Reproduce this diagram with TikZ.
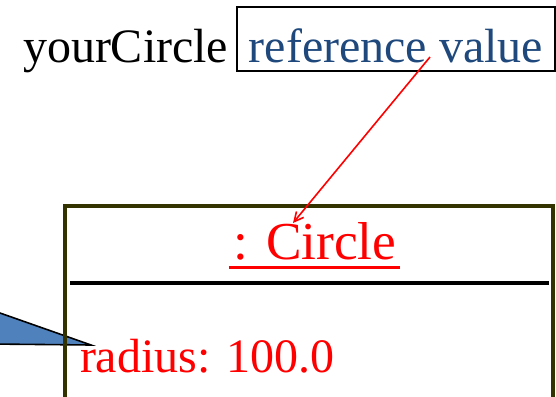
\documentclass[tikz,border=0pt]{standalone}
\usepackage{fontspec}
\setmainfont{Liberation Serif}
\usetikzlibrary{arrows.meta}
\definecolor{refblue}{HTML}{1F497D}
\definecolor{boxolive}{HTML}{333300}
\definecolor{callblue}{HTML}{4F81BD}
\begin{document}
\begin{tikzpicture}[x=0.75pt,y=-0.75pt,
  txt/.style={inner sep=0pt, outer sep=0pt, font=\fontsize{36}{40}\selectfont},
  bigtxt/.style={inner sep=0pt, outer sep=0pt, font=\fontsize{40}{44}\selectfont},
  objbox/.style={draw=boxolive, line width=3pt, inner sep=0pt, outer sep=0pt},
  refbox/.style={txt, draw=black, line width=1.5pt, text=refblue},
  link/.style={red, line width=1.2pt, -{Straight Barb[length=7pt,width=7pt]}}
  ]
\useasboundingbox (0,0) rectangle (556,396);
\fill[white] (0,0) rectangle (556,396);
% callout tail
\filldraw[fill=callblue, draw=black, line width=1.2pt] (-10,309.5) -- (91,345) -- (-10,344) -- cycle;
% object box
\node[objbox, minimum width=366pt, minimum height=165pt, anchor=north west] (obj) at (65,206) {};
\coordinate (sepL) at (70,283);
\coordinate (sepR) at (549,283);
\draw[black, line width=3pt] (sepL) -- (sepR);
% texts
\node[txt, anchor=base west] (var) at (23,62) {yourCircle};
\node[refbox, minimum width=238.5pt, text height=41.25pt, text depth=6.75pt, anchor=north west] (ref) at (237,7) {reference value};
\node[bigtxt, anchor=base, text=red] (cls) at (315,259) {: Circle};
\draw[red, line width=2.25pt] ([xshift=-3.5pt,yshift=-6pt]cls.base west) -- ([xshift=3pt,yshift=-6pt]cls.base east);
\node[txt, anchor=base west, text=red] (rad) at (80,372) {radius: 100.0};
% reference arrow
\coordinate (as) at (430,57);
\coordinate (ae) at (293,223);
\draw[link] (as) -- (ae);
\end{tikzpicture}
\end{document}
